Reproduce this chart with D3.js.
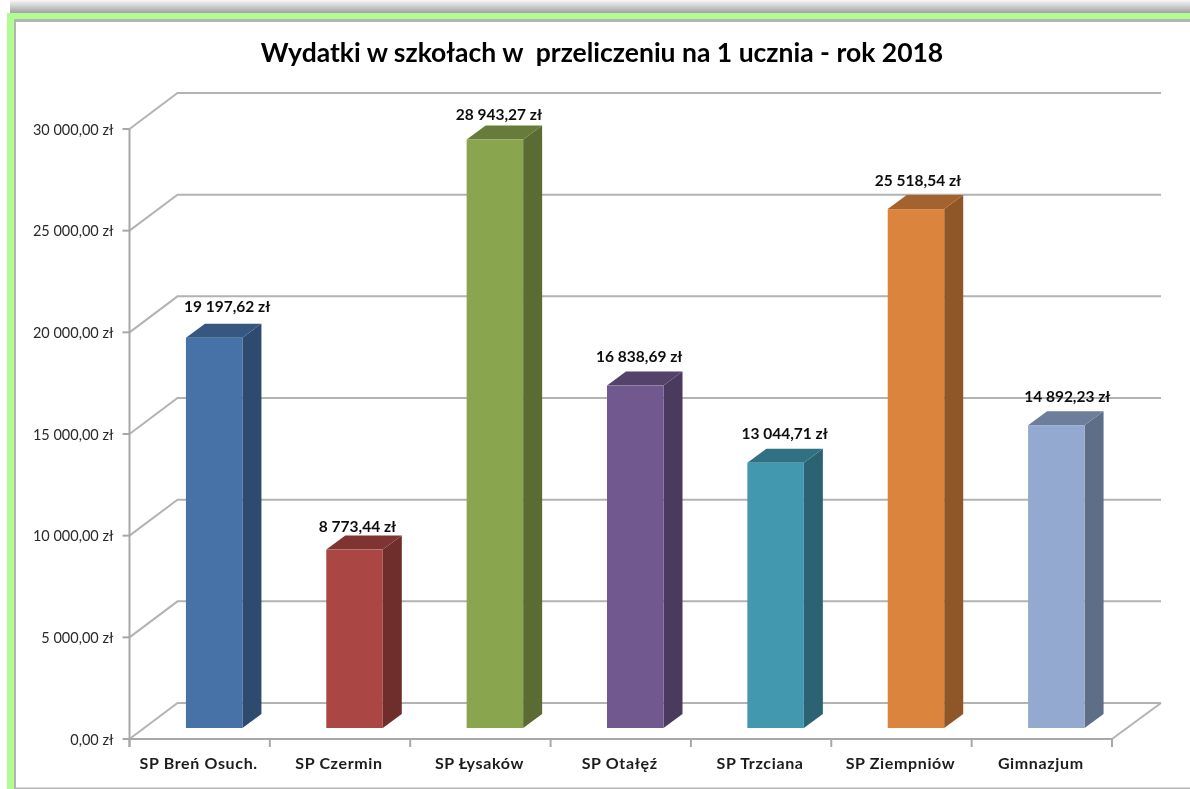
<!DOCTYPE html>
<html><head><meta charset="utf-8">
<script src="https://cdn.jsdelivr.net/npm/d3@7"></script>
<style>html,body{margin:0;padding:0;background:#fff;overflow:hidden}svg{display:block}text{font-family:Lato,"Open Sans",sans-serif}</style>
</head><body><svg id="c" width="1190" height="789"></svg>
<script>
const title = "Wydatki w szkołach w  przeliczeniu na 1 ucznia - rok 2018";
const categories = ["SP Breń Osuch.","SP Czermin","SP Łysaków","SP Otałęź","SP Trzciana","SP Ziempniów","Gimnazjum"];
const values = [19197.62,8773.44,28943.27,16838.69,13044.71,25518.54,14892.23];
const valueLabels = ["19 197,62 zł","8 773,44 zł","28 943,27 zł","16 838,69 zł","13 044,71 zł","25 518,54 zł","14 892,23 zł"];
const tickValues = [0,5000,10000,15000,20000,25000,30000];
const tickLabels = ["0,00 zł","5 000,00 zł","10 000,00 zł","15 000,00 zł","20 000,00 zł","25 000,00 zł","30 000,00 zł"];
const frontColors = ["#4672a8","#aa4643","#89a54e","#71588f","#4198af","#db843d","#93a9cf"];
const sideColors = ["#2e4a6e","#6f2e2c","#5a6c33","#4a3a5e","#2b6373","#8f5628","#5f6e87"];
const topColors = ["#355780","#7f3432","#677b3a","#54426b","#307183","#a4632e","#6e7e9a"];
const labelDx = [13,3,4,4,9,2,11];
const labelDy = [31,23,25,29,29,29,29];

const svg = d3.select("#c");
const defs = svg.append("defs");
const g1 = defs.append("linearGradient").attr("id","sh").attr("x1",0).attr("x2",0).attr("y1",0).attr("y2",1);
g1.append("stop").attr("offset",0).attr("stop-color","#f8f8f8");
g1.append("stop").attr("offset",1).attr("stop-color","#a2a2a2");
defs.append("filter").attr("id","soft").append("feGaussianBlur").attr("stdDeviation",0.35);

// frame
svg.append("rect").attr("x",10).attr("y",0).attr("width",1180).attr("height",13).attr("fill","url(#sh)");
svg.append("rect").attr("x",7).attr("y",13).attr("width",1183).attr("height",776).attr("fill","#b2fd92");
svg.append("rect").attr("x",14).attr("y",19).attr("width",1176).attr("height",770).attr("fill","#b4b4b4");
svg.append("rect").attr("x",16).attr("y",22).attr("width",1174).attr("height",765.5).attr("fill","#fff");

const left=129.5,right=1112,depthX=48,depthY=36,barDx=19,barDy=14;
const x = d3.scaleBand().domain(categories).range([left,right]).paddingInner(0);
const y = d3.scaleLinear().domain([0,30000]).range([739,129]);
const barW = 56.5, barShift = 14.5;
const barBaseLift = 11;

const grid = svg.append("g").attr("fill","none").attr("stroke","#b3b3b3").attr("stroke-width",2).attr("filter","url(#soft)");
tickValues.forEach(t=>{
  const yy=y(t);
  grid.append("path").attr("d",d3.line()([[left,yy],[left+depthX,yy-depthY],[right+depthX+1,yy-depthY]]));
});
grid.append("path").attr("d",d3.line()([[right,y(0)],[right+depthX+1,y(0)-depthY]]));
grid.append("path").attr("d",d3.line()([[left,y(30000)],[left,y(0)+8]])).attr("stroke","#a8a8a8");
grid.append("path").attr("d",d3.line()([[left,y(0)],[right,y(0)]])).attr("stroke","#a8a8a8");
tickValues.forEach(t=>grid.append("path").attr("d",d3.line()([[left-7,y(t)],[left,y(t)]])).attr("stroke","#a8a8a8"));
categories.concat([null]).forEach((c,i)=>{
  const xx=left+i*x.step();
  grid.append("path").attr("d",d3.line()([[xx,y(0)],[xx,y(0)+8]])).attr("stroke","#a8a8a8");
});

const bars = svg.append("g").selectAll("g").data(categories).join("g");
const bx = c=>x(c)+x.step()/2-barW/2+barShift;
const by0 = y(0)-barBaseLift;
const bt = i=>y(values[i])-barBaseLift;
bars.append("path").attr("fill",(c,i)=>sideColors[i]).attr("d",(c,i)=>{
  const r=bx(c)+barW;
  return d3.line()([[r,by0],[r+barDx,by0-barDy],[r+barDx,bt(i)-barDy],[r,bt(i)]])+"Z";
});
bars.append("path").attr("fill",(c,i)=>topColors[i]).attr("d",(c,i)=>{
  const l=bx(c),r=l+barW;
  return d3.line()([[l,bt(i)],[r,bt(i)],[r+barDx,bt(i)-barDy],[l+barDx,bt(i)-barDy]])+"Z";
});
bars.append("rect").attr("fill",(c,i)=>frontColors[i]).attr("x",bx).attr("width",barW)
  .attr("y",(c,i)=>bt(i)).attr("height",(c,i)=>by0-bt(i));

const texts = svg.append("g").attr("filter","url(#soft)");
texts.selectAll(".v").data(values).join("text").attr("class","v")
  .attr("x",(v,i)=>bx(categories[i])+barW/2+labelDx[i])
  .attr("y",(v,i)=>bt(i)-labelDy[i]+5.5)
  .attr("text-anchor","middle").attr("font-size",15.5).attr("font-weight",700).attr("fill","#111")
  .text((v,i)=>valueLabels[i]);
texts.selectAll(".yl").data(tickValues).join("text").attr("class","yl")
  .attr("x",113.5).attr("y",t=>y(t)+5.5).attr("text-anchor","end").attr("font-size",14.5).attr("fill","#2a2a2a")
  .text((t,i)=>tickLabels[i]);
texts.selectAll(".xl").data(categories).join("text").attr("class","xl")
  .attr("x",c=>x(c)+x.step()/2-1).attr("y",769).attr("text-anchor","middle").attr("font-size",16).attr("letter-spacing",0.65).attr("font-weight",700).attr("fill","#1c1c1c")
  .text(c=>c);
texts.append("text").attr("x",602).attr("y",62).attr("text-anchor","middle").attr("font-size",26.5).attr("font-weight",700).attr("fill","#000").style("white-space","pre").text(title);
</script></body></html>
